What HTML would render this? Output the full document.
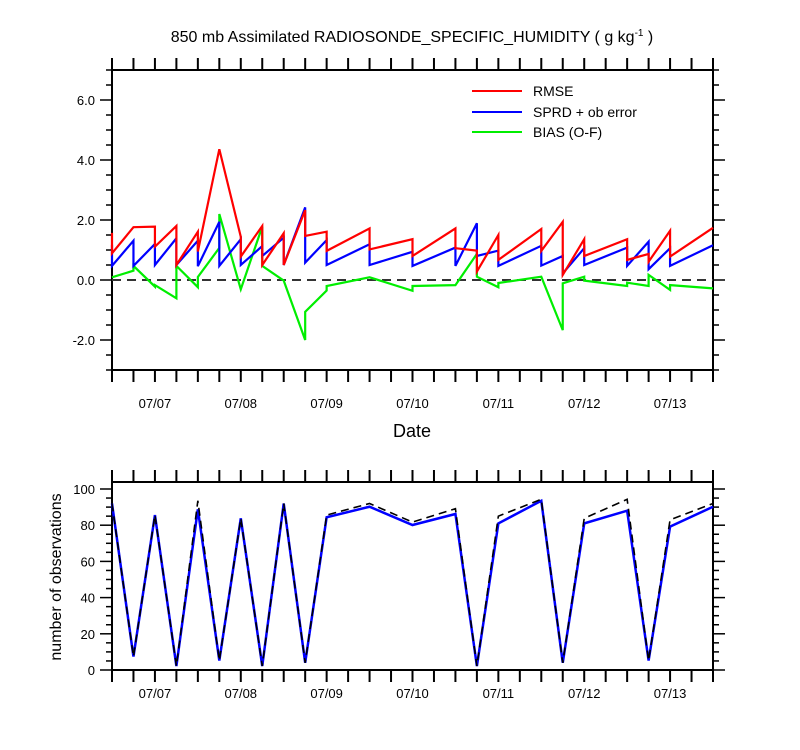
<!DOCTYPE html>
<html><head><meta charset="utf-8"><style>
html,body{margin:0;padding:0;background:#fff;}
svg{display:block;font-family:"Liberation Sans",sans-serif;}
</style></head><body>
<svg id="c" width="800" height="750" viewBox="0 0 800 750">
<text x="412" y="42" text-anchor="middle" font-size="16">850 mb Assimilated RADIOSONDE_SPECIFIC_HUMIDITY ( g kg<tspan dy="-6" font-size="10">-1</tspan><tspan dy="6"> )</tspan></text>
<text x="412" y="437" text-anchor="middle" font-size="18">Date</text>
<text x="0" y="0" transform="translate(61,577) rotate(-90)" text-anchor="middle" font-size="16">number of observations</text>
<g>
<line x1="472" y1="91" x2="522" y2="91" stroke="#ff0000" stroke-width="2"/>
<text x="533" y="96" font-size="14">RMSE</text>
<line x1="472" y1="112" x2="522" y2="112" stroke="#0000ff" stroke-width="2"/>
<text x="533" y="117" font-size="14">SPRD + ob error</text>
<line x1="472" y1="132" x2="522" y2="132" stroke="#00ee00" stroke-width="2"/>
<text x="533" y="137" font-size="14">BIAS (O-F)</text>
</g>
</svg>
<script>
const times=[0,6,12,18,24,30,36,42,48,54,60,72,84,96,102,108,120,126,132,144,150,156,168];
const rmsePrior=[1.57,1.76,1.78,1.8,1.61,4.36,1.44,1.8,1.56,2.33,1.61,1.72,1.36,1.72,0.98,1.5,1.7,1.94,1.36,1.36,0.87,1.64,1.74];
const rmsePost=[0.89,1.76,1.11,0.5,0.95,4.36,0.78,0.5,0.5,1.47,0.97,1.02,0.8,1.06,0.28,0.67,0.97,0.17,0.8,0.67,0.61,0.78,1.74];
const sprdPrior=[1.17,1.31,1.2,1.39,1.31,1.94,1.36,1.13,1.41,2.42,1.33,1.19,0.94,1.08,1.89,0.98,1.14,0.8,1.06,1.08,1.28,1.06,1.16];
const sprdPost=[0.47,0.47,0.5,0.5,0.46,0.47,0.5,0.8,0.5,0.58,0.5,0.5,0.47,0.47,0.8,0.47,0.48,0.22,0.5,0.47,0.36,0.47,1.16];
const biasPrior=[0.09,0.31,-0.22,-0.61,-0.24,1.07,-0.31,1.78,-0.02,-2.0,-0.35,0.09,-0.36,-0.17,0.87,-0.24,0.11,-1.67,0.11,-0.2,-0.2,-0.33,-0.28];
const biasPost=[0.09,0.47,-0.17,0.47,0.1,2.2,-0.31,0.47,-0.02,-1.06,-0.2,0.09,-0.2,-0.17,0.11,-0.1,0.11,-0.11,-0.02,-0.09,0.17,-0.17,-0.28];
const obsUsed=[92,7.4,85.6,2.2,88.8,5.2,83.8,2.2,92,4,84.4,90.2,80.1,86.2,2.2,81,93.5,4,81,88,5.2,79.2,90.2];
const obsPossible=[92,7.4,85.6,2.2,93.5,5.2,83.8,2.2,92,4,85.6,92,81.7,89.1,2.2,85,94.3,4,83.8,94.3,5.2,83,92];
const dayLabels=["07/07","07/08","07/09","07/10","07/11","07/12","07/13"];
const topTicks=[-2,0,2,4,6];
const obsTicks=[0,20,40,60,80,100];

const svg=document.getElementById('c');
const NS='http://www.w3.org/2000/svg';
function mk(tag,attrs,parent){const e=document.createElementNS(NS,tag);for(const k in attrs)e.setAttribute(k,attrs[k]);(parent||svg).appendChild(e);return e;}
const X0=112,X1=713;
const xs=t=>X0+(t/168)*(X1-X0);
const yTop=v=>280-v*30;
const yObs=v=>670-v*1.81;

function frame(y0,y1,name,labOff){
  const r=mk('rect',{x:X0,y:y0,width:X1-X0,height:y1-y0,fill:'none',stroke:'#000','stroke-width':2});
  
  
  for(let t=0;t<=168;t+=6){
    const x=xs(t);
    const a=mk('line',{x1:x,y1:y1,x2:x,y2:y1+12,stroke:'#000','stroke-width':2});
    
    
    const b=mk('line',{x1:x,y1:y0,x2:x,y2:y0-12,stroke:'#000','stroke-width':2});
    
    
  }
  dayLabels.forEach((d,i)=>{
    const tx=mk('text',{x:xs(12+24*i),y:y1+labOff,'text-anchor':'middle','font-size':13});
    tx.textContent=d;
    
    
  });
}
function yticks(vmin,vmax,minorStep,majors,yf,fmt){
  for(let v=vmin;v<=vmax+1e-9;v+=minorStep){
    const isMaj=majors.some(m=>Math.abs(m-v)<1e-6);
    const L=isMaj?12:6,y=yf(v);
    const a=mk('line',{x1:X0,y1:y,x2:X0-L,y2:y,stroke:'#000','stroke-width':1.5});
    
    
    const b=mk('line',{x1:X1,y1:y,x2:X1+L,y2:y,stroke:'#000','stroke-width':1.5});
    
    
  }
  majors.forEach(m=>{
    const t=mk('text',{x:X0-17,y:yf(m)+5,'text-anchor':'end','font-size':13});
    t.textContent=fmt(m);
    
    
  });
}
// top panel
frame(70,370,'top-plot-frame',38);
yticks(-3,7,0.5,topTicks,yTop,v=>v.toFixed(1));
const zl=mk('line',{x1:X0,y1:yTop(0),x2:X1,y2:yTop(0),stroke:'#333','stroke-width':2,'stroke-dasharray':'9,6'});


function pairPath(pr,po,col,name){
  let d='';
  times.forEach((t,i)=>{d+=(i?'L':'M')+xs(t)+','+yTop(pr[i])+'L'+xs(t)+','+yTop(po[i]);});
  const p=mk('path',{d:d,fill:'none',stroke:col,'stroke-width':2.2,'stroke-linejoin':'miter'});
  
  
}
pairPath(biasPrior,biasPost,'#00ee00','bias-line');
pairPath(sprdPrior,sprdPost,'#0000ff','sprd-line');
pairPath(rmsePrior,rmsePost,'#ff0000','rmse-line');
// bottom panel
frame(482,670,'obs-plot-frame',28);
yticks(0,100,5,obsTicks,yObs,v=>String(v));
function obsPath(vals,col,dash,name,w){
  const d=vals.map((v,i)=>(i?'L':'M')+xs(times[i])+','+yObs(v)).join('');
  const p=mk('path',{d:d,fill:'none',stroke:col,'stroke-width':w});
  if(dash)p.setAttribute('stroke-dasharray',dash);
  
  
}
obsPath(obsUsed,'#0000ff',null,'obs-used-line',2.5);
obsPath(obsPossible,'#000',"8,5",'obs-possible-line',1.6);
</script>
</body></html>
